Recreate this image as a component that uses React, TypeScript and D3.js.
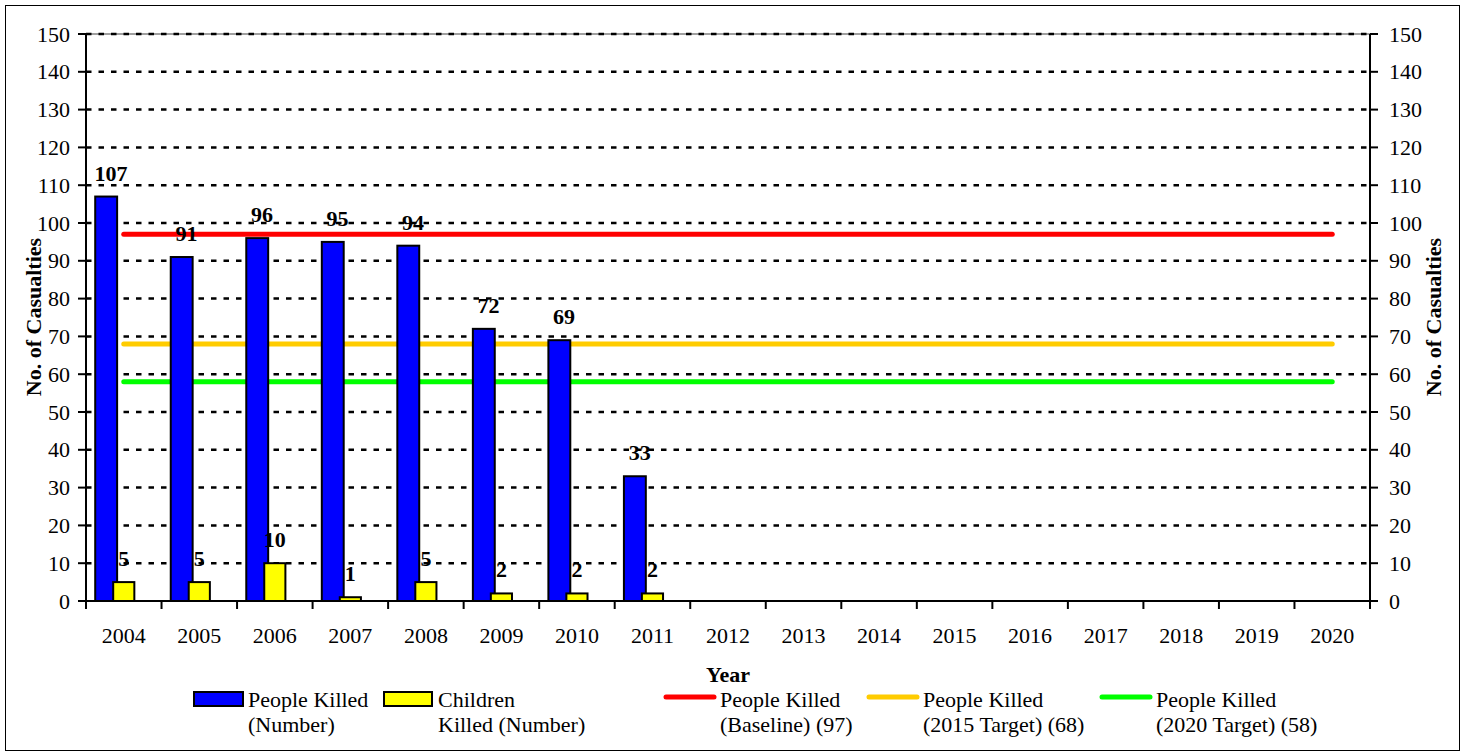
import React from "react";
import * as d3 from "d3";

const years = ["2004","2005","2006","2007","2008","2009","2010","2011","2012","2013","2014","2015","2016","2017","2018","2019","2020"];
const peopleKilled: (number | null)[] = [107, 91, 96, 95, 94, 72, 69, 33, null, null, null, null, null, null, null, null, null];
const childrenKilled: (number | null)[] = [5, 5, 10, 1, 5, 2, 2, 2, null, null, null, null, null, null, null, null, null];
const baseline = 97;
const target2015 = 68;
const target2020 = 58;
const yTicks = [0, 10, 20, 30, 40, 50, 60, 70, 80, 90, 100, 110, 120, 130, 140, 150];

const W = 1465, H = 755;
const L = 86, R = 1370, T = 34, B = 601;
const FONT = "'Liberation Serif', 'Times New Roman', serif";

export default function App() {
  const x = d3.scaleBand<string>().domain(years).range([L, R]).padding(0);
  const y = d3.scaleLinear().domain([0, 150]).range([B, T]);
  const bw = x.bandwidth();
  const blueOff = 0.122 * bw, blueW = 0.29 * bw;
  const yelOff = 0.36 * bw, yelW = 0.28 * bw;
  const lineX1 = (x(years[0]) as number) + bw / 2;
  const lineX2 = (x(years[years.length - 1]) as number) + bw / 2;
  const hLines = [
    { v: baseline, c: "#FF0000" },
    { v: target2015, c: "#FFCC00" },
    { v: target2020, c: "#00FF00" },
  ];
  const legendLines = [
    { x: 664, c: "#FF0000", t1: "People Killed", t2: "(Baseline) (97)" },
    { x: 867, c: "#FFCC00", t1: "People Killed", t2: "(2015 Target) (68)" },
    { x: 1100, c: "#00FF00", t1: "People Killed", t2: "(2020 Target) (58)" },
  ];
  return (
    <svg width={W} height={H} style={{ position: "absolute", left: 0, top: 0, background: "#fff" }} fontFamily={FONT}>
      <rect x={0} y={0} width={W} height={H} fill="#fff" />
      <rect x={5.5} y={5.5} width={1454} height={745} fill="none" stroke="#000" strokeWidth={1} />
      {/* plot border */}
      <rect x={L} y={T} width={R - L} height={B - T} fill="none" stroke="#808080" strokeWidth={1.5} />
      {/* gridlines */}
      {yTicks.filter(v => v > 0).map(v => (
        <line key={"g" + v} x1={L} x2={R} y1={y(v)} y2={y(v)} stroke="#000" strokeWidth={2.5} strokeDasharray="5.5,7" />
      ))}
      {/* horizontal reference lines (behind bars) */}
      {hLines.map(h => (
        <line key={"h" + h.v} x1={lineX1} x2={lineX2} y1={y(h.v)} y2={y(h.v)} stroke={h.c} strokeWidth={5} strokeLinecap="round" />
      ))}
      {/* bars */}
      {years.map((yr, i) => {
        const x0 = x(yr) as number;
        const p = peopleKilled[i];
        const c = childrenKilled[i];
        return (
          <g key={"b" + yr}>
            {p != null && (
              <rect x={x0 + blueOff} y={y(p)} width={blueW} height={B - y(p)} fill="#0000FF" stroke="#000" strokeWidth={2} />
            )}
            {c != null && (
              <rect x={x0 + yelOff} y={y(c)} width={yelW} height={B - y(c)} fill="#FFFF00" stroke="#000" strokeWidth={2} />
            )}
          </g>
        );
      })}
      {/* axes */}
      <line x1={L} x2={L} y1={T} y2={B} stroke="#000" strokeWidth={2} />
      <line x1={R} x2={R} y1={T} y2={B} stroke="#000" strokeWidth={2} />
      <line x1={L} x2={R} y1={B} y2={B} stroke="#000" strokeWidth={2} />
      {yTicks.map(v => (
        <g key={"t" + v}>
          <line x1={L - 8} x2={L} y1={y(v)} y2={y(v)} stroke="#000" strokeWidth={2} />
          <line x1={R} x2={R + 8} y1={y(v)} y2={y(v)} stroke="#000" strokeWidth={2} />
          <text x={70} y={y(v) + 7.5} fontSize={22} textAnchor="end">{v}</text>
          <text x={1389} y={y(v) + 7.5} fontSize={22} textAnchor="start">{v}</text>
        </g>
      ))}
      {years.map(yr => (
        <line key={"xt" + yr} x1={x(yr) as number} x2={x(yr) as number} y1={B} y2={B + 8} stroke="#000" strokeWidth={2} />
      ))}
      <line x1={R} x2={R} y1={B} y2={B + 8} stroke="#000" strokeWidth={2} />
      {years.map(yr => (
        <text key={"xl" + yr} x={(x(yr) as number) + bw / 2} y={643} fontSize={22} textAnchor="middle">{yr}</text>
      ))}
      {/* data labels */}
      {years.map((yr, i) => {
        const x0 = x(yr) as number;
        const p = peopleKilled[i];
        const c = childrenKilled[i];
        return (
          <g key={"dl" + yr} fontWeight="bold" fontSize={22} textAnchor="middle">
            {p != null && <text x={x0 + 0.33 * bw} y={y(p) - 16}>{p}</text>}
            {c != null && <text x={x0 + yelOff + yelW / 2} y={y(c) - 16}>{c}</text>}
          </g>
        );
      })}
      {/* axis titles */}
      <text transform="translate(41,317) rotate(-90)" fontSize={22} fontWeight="bold" textAnchor="middle">No. of Casualties</text>
      <text transform="translate(1441,317) rotate(-90)" fontSize={22} fontWeight="bold" textAnchor="middle">No. of Casualties</text>
      <text x={728} y={682} fontSize={22} fontWeight="bold" textAnchor="middle">Year</text>
      {/* legend */}
      <rect x={194} y={692} width={49} height={14} fill="#0000FF" stroke="#000" strokeWidth={2} />
      <text x={248} y={707} fontSize={22}>People Killed</text>
      <text x={248} y={732} fontSize={22}>(Number)</text>
      <rect x={384} y={692} width={48} height={14} fill="#FFFF00" stroke="#000" strokeWidth={2} />
      <text x={438} y={707} fontSize={22}>Children</text>
      <text x={438} y={732} fontSize={22}>Killed (Number)</text>
      {legendLines.map(l => (
        <g key={"ll" + l.x}>
          <line x1={l.x + 2} x2={l.x + 50} y1={697} y2={697} stroke={l.c} strokeWidth={5} strokeLinecap="round" />
          <text x={l.x + 56} y={707} fontSize={22}>{l.t1}</text>
          <text x={l.x + 56} y={732} fontSize={22}>{l.t2}</text>
        </g>
      ))}
    </svg>
  );
}
